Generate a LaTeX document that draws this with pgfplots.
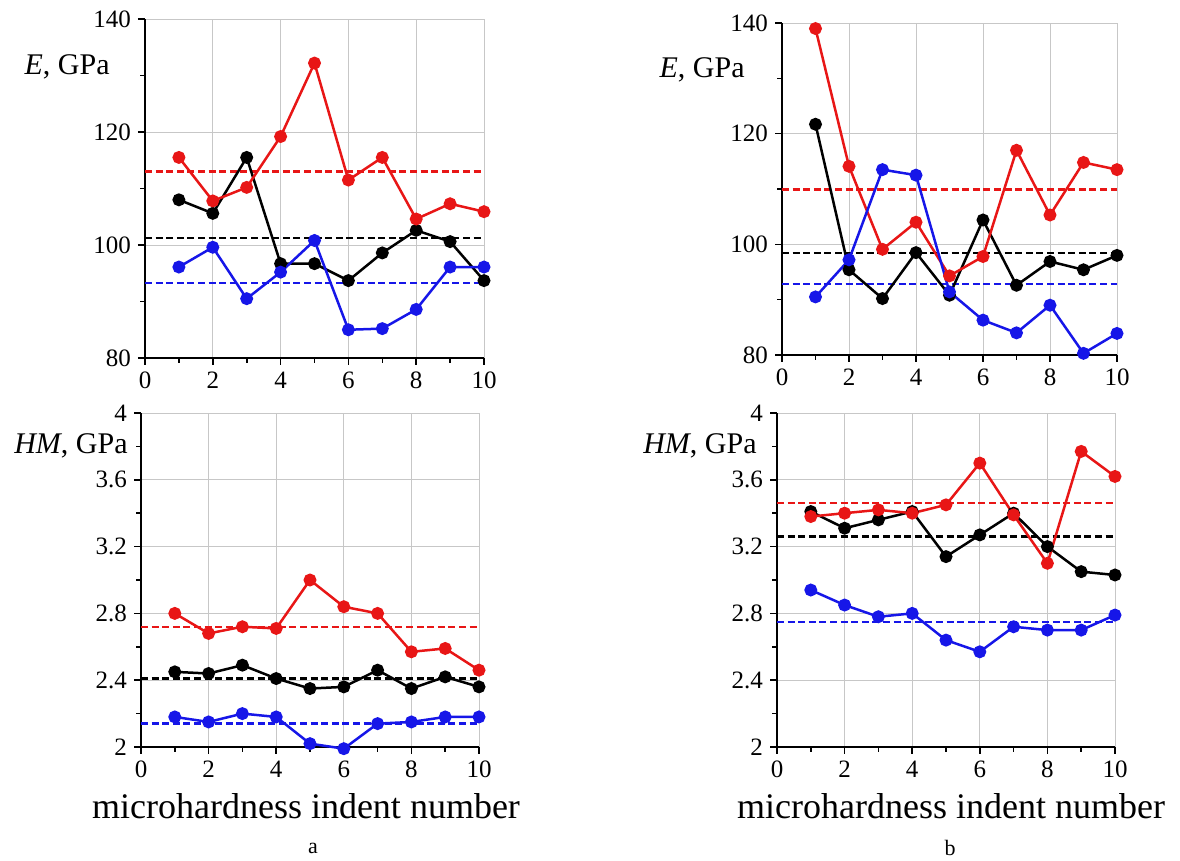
\documentclass[border=0pt]{standalone}
\usepackage{fontspec}
\setmainfont{Liberation Serif}
\usepackage{pgfplots}
\pgfplotsset{compat=1.18}

\definecolor{cred}{RGB}{232,22,22}
\definecolor{cblue}{RGB}{22,22,232}

\pgfplotsset{
  panel/.style={
    scale only axis, axis lines=left, axis line style={line width=1.1pt,-},
    xmin=0, xmax=10, xtick={0,2,...,10}, minor xtick={1,3,...,9},
    grid=major, major grid style={black!22, line width=0.5pt},
    tick align=outside, major tick length=3.5pt, minor tick length=2.5pt,
    every tick/.style={black, line width=0.8pt},
    tick label style={font=\fontsize{12.5}{12.5}\selectfont},
    /pgf/number format/assume math mode=true,
    clip=false,
  },
  ser/.style={line width=1.25pt, mark=*, mark size=2.6pt, mark options={solid}},
  mean/.style={line width=1.2pt, dash pattern=on 3.5pt off 1.8pt},
  Eaxis/.style={ymin=80, ymax=140, ytick={80,100,120,140}, minor ytick={90,110,130}},
  Haxis/.style={ymin=2, ymax=4, ytick={2,2.4,2.8,3.2,3.6,4}, minor ytick={2.2,2.6,3,3.4,3.8}},
}

\begin{document}
\begin{tikzpicture}
\path[use as bounding box] (0,0) rectangle (590pt,-430.5pt);

% a, E
\begin{axis}[panel, Eaxis, at={(72.5pt,-179pt)}, anchor=south west, width=169.5pt, height=169.5pt]
\addplot[black, mean] coordinates {(0,101.2) (10,101.2)};
\addplot[cred, mean] coordinates {(0,113.0) (10,113.0)};
\addplot[cblue, mean] coordinates {(0,93.3) (10,93.3)};
\addplot[black, ser] coordinates {(1,108.0) (2,105.6) (3,115.5) (4,96.7) (5,96.7) (6,93.7) (7,98.6) (8,102.6) (9,100.6) (10,93.7)};
\addplot[cred, ser] coordinates {(1,115.5) (2,107.8) (3,110.2) (4,119.2) (5,132.2) (6,111.5) (7,115.5) (8,104.6) (9,107.3) (10,105.9)};
\addplot[cblue, ser] coordinates {(1,96.1) (2,99.6) (3,90.5) (4,95.2) (5,100.8) (6,85.0) (7,85.2) (8,88.6) (9,96.1) (10,96.1)};
\end{axis}

% a, HM
\begin{axis}[panel, Haxis, at={(70.5pt,-373.5pt)}, anchor=south west, width=169pt, height=167pt]
\addplot[black, mean] coordinates {(0,2.41) (10,2.41)};
\addplot[cred, mean] coordinates {(0,2.72) (10,2.72)};
\addplot[cblue, mean] coordinates {(0,2.14) (10,2.14)};
\addplot[black, ser] coordinates {(1,2.45) (2,2.44) (3,2.49) (4,2.41) (5,2.35) (6,2.36) (7,2.46) (8,2.35) (9,2.42) (10,2.36)};
\addplot[cred, ser] coordinates {(1,2.80) (2,2.68) (3,2.72) (4,2.71) (5,3.00) (6,2.84) (7,2.80) (8,2.57) (9,2.59) (10,2.46)};
\addplot[cblue, ser] coordinates {(1,2.18) (2,2.15) (3,2.20) (4,2.18) (5,2.02) (6,1.99) (7,2.14) (8,2.15) (9,2.18) (10,2.18)};
\end{axis}

% b, E
\begin{axis}[panel, Eaxis, at={(391pt,-177.5pt)}, anchor=south west, width=167.5pt, height=166pt]
\addplot[black, mean] coordinates {(0,98.4) (10,98.4)};
\addplot[cred, mean] coordinates {(0,109.9) (10,109.9)};
\addplot[cblue, mean] coordinates {(0,92.8) (10,92.8)};
\addplot[black, ser] coordinates {(1,121.7) (2,95.4) (3,90.2) (4,98.5) (5,90.8) (6,104.4) (7,92.6) (8,96.9) (9,95.4) (10,98.0)};
\addplot[cred, ser] coordinates {(1,139.0) (2,114.1) (3,99.1) (4,104.0) (5,94.3) (6,97.8) (7,117.0) (8,105.3) (9,114.8) (10,113.5)};
\addplot[cblue, ser] coordinates {(1,90.5) (2,97.2) (3,113.5) (4,112.5) (5,91.4) (6,86.3) (7,84.0) (8,89.0) (9,80.3) (10,83.9)};
\end{axis}

% b, HM
\begin{axis}[panel, Haxis, at={(388.5pt,-373.5pt)}, anchor=south west, width=169pt, height=167pt]
\addplot[black, mean] coordinates {(0,3.26) (10,3.26)};
\addplot[cred, mean] coordinates {(0,3.46) (10,3.46)};
\addplot[cblue, mean] coordinates {(0,2.75) (10,2.75)};
\addplot[black, ser] coordinates {(1,3.41) (2,3.31) (3,3.36) (4,3.41) (5,3.14) (6,3.27) (7,3.40) (8,3.20) (9,3.05) (10,3.03)};
\addplot[cred, ser] coordinates {(1,3.38) (2,3.40) (3,3.42) (4,3.40) (5,3.45) (6,3.70) (7,3.39) (8,3.10) (9,3.77) (10,3.62)};
\addplot[cblue, ser] coordinates {(1,2.94) (2,2.85) (3,2.78) (4,2.80) (5,2.64) (6,2.57) (7,2.72) (8,2.70) (9,2.70) (10,2.79)};
\end{axis}

% labels
\begin{scope}[every node/.style={inner sep=0pt, font=\fontsize{15}{15}\selectfont}]
\node[anchor=east] at (55pt,-33.5pt) {\textit{E}, GPa};
\node[anchor=east] at (372.5pt,-35pt) {\textit{E}, GPa};
\node[anchor=east] at (64pt,-223pt) {\textit{HM}, GPa};
\node[anchor=east] at (378.5pt,-223pt) {\textit{HM}, GPa};
\node at (153pt,-403pt) {\fontsize{18}{18}\selectfont microhardness indent number};
\node at (475.5pt,-403pt) {\fontsize{18}{18}\selectfont microhardness indent number};
\node at (156.5pt,-424pt) {\fontsize{11}{11}\selectfont a};
\node at (475pt,-424pt) {\fontsize{11}{11}\selectfont b};
\end{scope}
\end{tikzpicture}
\end{document}
